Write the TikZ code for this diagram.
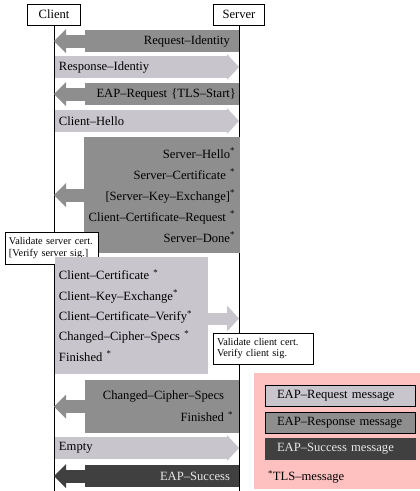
\documentclass[tikz,border=0pt]{standalone}
\usepackage{fontspec}
\setmainfont{Liberation Serif}
\usetikzlibrary{arrows.meta}
\usetikzlibrary{positioning}

\definecolor{reqfill}{RGB}{200,198,204}
\definecolor{resfill}{RGB}{142,142,142}
\definecolor{sucfill}{RGB}{64,64,64}
\definecolor{sucfont}{RGB}{232,232,232}
\definecolor{legendpink}{RGB}{255,192,192}

\begin{document}
\begin{tikzpicture}
  [x=1pt, y=-1pt, nodes={outer sep=0pt, inner ysep=0pt, font=\fontsize{12.6}{15}\selectfont}]
  \tikzset{party/.style={draw, line width=0.6pt, fill=white, minimum height=21pt, inner xsep=0pt}}
  \tikzset{lifeline/.style={draw, line width=0.8pt}}
  \tikzset{request/.style={fill=reqfill, minimum height=22pt, text width=164pt, inner xsep=4pt, align=left}}
  \tikzset{response/.style={fill=resfill, minimum height=22pt, align=right}}
  \tikzset{success/.style={fill=sucfill, text=sucfont, minimum height=22pt, align=right}}
  \tikzset{note/.style={draw, line width=0.6pt, fill=white, inner xsep=4pt, align=left, font=\fontsize{10.3}{11.5}\selectfont}}
  \tikzset{legendbox/.style={draw, line width=0.6pt, minimum height=21pt, text width=126pt, inner xsep=12pt, align=left}}
  \tikzset{toserver/.style={draw=reqfill, line width=#1, -{Triangle[length=12pt, width=26pt, line width=0pt]}}, toserver/.default=22pt}
  \tikzset{toclient/.style={draw=#1, line width=13pt, -{Triangle[length=12pt, width=24pt, line width=0pt]}}}

  \useasboundingbox (0,0) rectangle (420,491);

  \node[party, minimum width=53pt] (client) at (54,14.5) {Client};
  \node[party, minimum width=51pt] (server) at (239,14.5) {Server};
  \coordinate (cend) at (54,491);
  \coordinate (send) at (239,491);
  \draw[lifeline] (client.south) -- (cend);
  \draw[lifeline] (server.south) -- (send);

  % Request-Identity
  \node[response, text width=136pt, inner xsep=9pt] (reqid) at (162,41) {Request--Identity};
  \draw[toclient=resfill] (reqid.west) -- (reqid.west -| client);

  % Response-Identiy
  \node[request] (resid) at (141,67) {Response--Identiy};
  \draw[toserver] (resid.east) -- (resid.east -| server);

  % EAP-Request {TLS-Start}
  \node[response, text width=148pt, inner xsep=3pt] (tlsstart) at (162,94) {EAP--Request \{TLS--Start\}};
  \draw[toclient=resfill] (tlsstart.west) -- (tlsstart.west -| client);

  % Client-Hello
  \node[request] (chello) at (141,121) {Client--Hello};
  \draw[toserver] (chello.east) -- (chello.east -| server);

  % Server-Hello .. Server-Done
  \node[response, minimum height=116pt, text width=146pt, inner xsep=5pt, font=\fontsize{12.6}{21}\selectfont] (shello) at (162,195)
    {Server--Hello\textsuperscript{*}\\ Server--Certificate~\textsuperscript{*}\\ {[}Server--Key--Exchange{]}\textsuperscript{*}\\
     \makebox[146pt][r]{Client--Certificate--Request~\textsuperscript{*}}\\ Server--Done\textsuperscript{*}};
  \draw[toclient=resfill] (shello.west) -- (shello.west -| client);
  \node[note, minimum height=32pt, text width=85pt] (vserver) at (51.5,248) {Validate server cert.\\ {[}Verify server sig.{]}};

  % Client-Certificate .. Finished
  \node[request, minimum height=117pt, text width=145pt, font=\fontsize{12.6}{20.3}\selectfont] (ccert) at (131.5,315.5)
    {Client--Certificate~\textsuperscript{*}\\ Client--Key--Exchange\textsuperscript{*}\\ Client--Certificate--Verify\textsuperscript{*}\\ Changed--Cipher--Specs~\textsuperscript{*}\\ Finished~\textsuperscript{*}};
  \coordinate (cfin) at ([yshift=-3pt]ccert.east);
  \draw[toserver=12pt] (cfin) -- (cfin -| server);
  \node[note, minimum height=31pt, text width=92pt] (vclient) at (263,348.5) {Validate client cert.\\ Verify client sig.};

  % Changed-Cipher-Specs, Finished
  \node[response, minimum height=53pt, text width=124pt, inner xsep=15pt, font=\fontsize{12.6}{22}\selectfont] (schange) at (162,406.5)
    {Changed--Cipher--Specs\\ Finished\rlap{~\textsuperscript{*}}};
  \draw[toclient=resfill] (schange.west) -- (schange.west -| client);

  % Empty
  \node[request] (empty) at (141,448) {Empty};
  \draw[toserver] (empty.east) -- (empty.east -| server);

  % EAP-Success
  \node[success, text width=136pt, inner xsep=9pt] (success) at (162,476) {EAP--Success};
  \draw[toclient=sucfill] (success.west) -- (success.west -| client);

  % legend
  \node[fill=legendpink, minimum width=166pt, minimum height=116pt] (legend) at (337,431) {};
  \node[legendbox, fill=reqfill] (lreq) at (340,395.5) {EAP--Request message};
  \node[legendbox, fill=resfill, below=6pt of lreq] (lres) {EAP--Response message};
  \node[legendbox, fill=sucfill, draw=sucfill, text=sucfont, below=5pt of lres] (lsuc) {EAP--Success message};
  \node[anchor=west, inner xsep=0pt] (ltls) at (268,477) {\textsuperscript{*}TLS--message};
\end{tikzpicture}
\end{document}
